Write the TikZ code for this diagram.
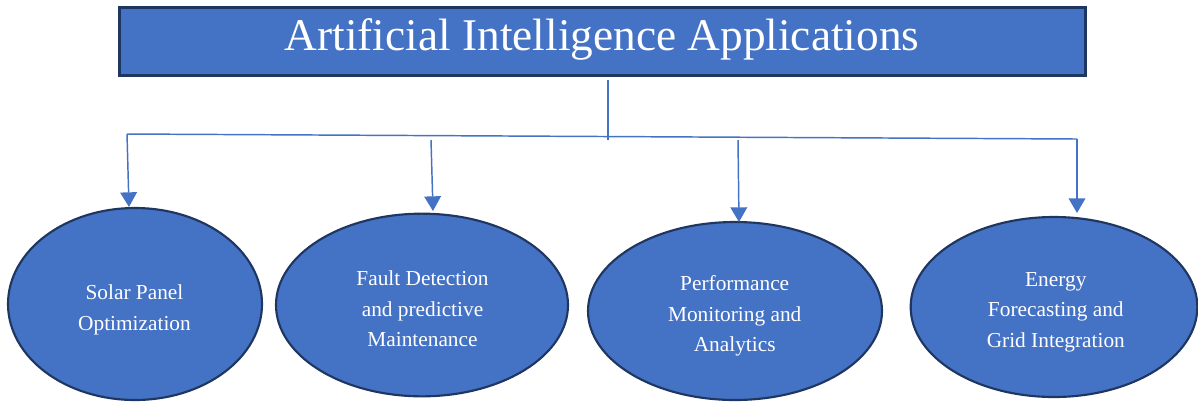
\documentclass[tikz,border=0pt]{standalone}
\usepackage{fontspec}
\setmainfont{Liberation Serif}
\usetikzlibrary{shapes.geometric,arrows.meta}
\definecolor{fillblue}{HTML}{4472C4}
\definecolor{edgeblue}{HTML}{1F3660}
\begin{document}
\begin{tikzpicture}[x=0.75pt,y=-0.75pt,
  titlebox/.style={rectangle, draw=edgeblue, line width=2.25pt, fill=fillblue, inner sep=0pt},
  ell/.style={ellipse, draw=edgeblue, line width=1.6pt, fill=fillblue, inner sep=0pt},
  lbl/.style={text=white, align=center, inner sep=0pt, font=\fontsize{16}{23}\selectfont},
  conn/.style={draw=fillblue, line width=1.1pt},
  arr/.style={conn, -{Triangle[width=12.5pt,length=11pt]}}]
\useasboundingbox (0,0) rectangle (1198,401);

% title
\node (box) [titlebox, minimum width=725pt, minimum height=51pt] at (602.5,41) {};
\node (title) [anchor=base, text=white, inner sep=0pt, font=\fontsize{34}{40}\selectfont] at (602,50) {Artificial Intelligence Applications};

% ellipses
\node (e1) [ell, minimum width=190.5pt, minimum height=144pt] at (135,304) {};
\node (e2) [ell, minimum width=219pt, minimum height=137pt] at (422,305) {};
\node (e3) [ell, minimum width=220.5pt, minimum height=133.5pt] at (735,311) {};
\node (e4) [ell, minimum width=215pt, minimum height=135pt] at (1054,307) {};

\node (t1) [lbl] at (134.5,310) {Solar Panel\\Optimization};
\node (t2) [lbl] at (422.5,309) {Fault Detection\\and predictive\\Maintenance};
\node (t3) [lbl] at (734.7,316) {Performance\\Monitoring and\\Analytics};
\node (t4) [lbl] at (1055.8,312) {Energy\\Forecasting and\\Grid Integration};

% connectors
\coordinate (stemtop) at (608,80);
\coordinate (stembot) at (608,140);
\coordinate (hl) at (127,134);
\coordinate (hr) at (1077,139);
\coordinate (a2s) at (431,140);
\coordinate (a3s) at (738,140);
\coordinate (tip1) at (129,207);
\coordinate (tip2) at (433,211);
\coordinate (tip3) at (739,222);
\coordinate (tip4) at (1077,213);

\draw[conn] (stemtop) -- (stembot);
\draw[conn] (hl) -- (hr);
\draw[arr] (hl) -- (tip1);
\draw[arr] (a2s) -- (tip2);
\draw[arr] (a3s) -- (tip3);
\draw[arr] (hr) -- (tip4);
\end{tikzpicture}
\end{document}
